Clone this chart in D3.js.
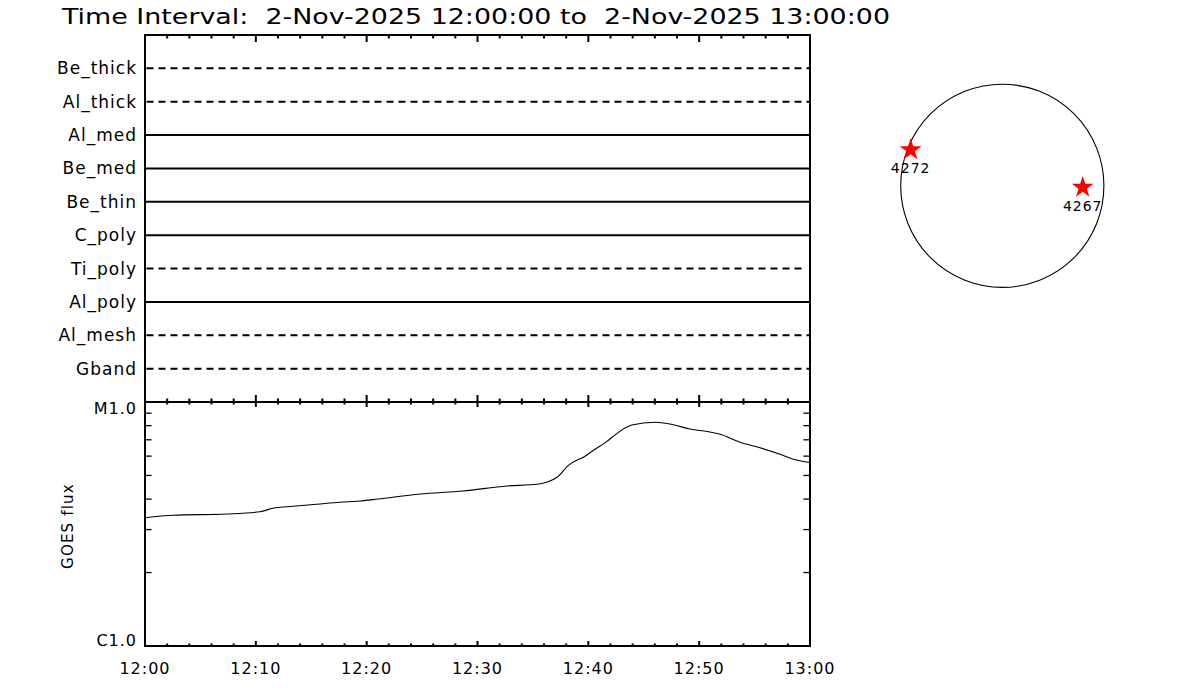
<!DOCTYPE html>
<html>
<head>
<meta charset="utf-8">
<script src="https://cdn.jsdelivr.net/npm/d3@7"></script>
<style>
  html, body { margin: 0; padding: 0; background: #fff; }
  svg { display: block; }
  text { font-family: "DejaVu Sans", sans-serif; fill: #000; }
</style>
</head>
<body>
<svg id="chart" width="1200" height="700"></svg>
<script>
// ---------- data ----------
const titleText = "Time Interval:  2-Nov-2025 12:00:00 to  2-Nov-2025 13:00:00";

// filter channels (top to bottom) and whether drawn dashed
const channels      = ["Be_thick", "Al_thick", "Al_med", "Be_med", "Be_thin", "C_poly", "Ti_poly", "Al_poly", "Al_mesh", "Gband"];
const channelDashed = [true, true, false, false, false, false, true, false, true, true];
const channelStart  = [0, 0, 0, 0, 0, 0, 0, 0, 0, 0];        // minutes after 12:00
const channelEnd    = [60, 60, 60, 60, 60, 60, 59.5, 60, 60, 60];

// time tick labels
const timeTickLabels = ["12:00", "12:10", "12:20", "12:30", "12:40", "12:50", "13:00"];
const fluxTickLabels = ["C1.0", "M1.0"];

// GOES flux (W/m^2) vs minutes after 12:00
const goesTime = [0, 2.55, 7.37, 10.38, 11.55, 13.35, 15.49, 17.59, 19.4, 21.02, 24.81, 28.69, 32.66, 35.37, 36.27,
                  37.18, 38.17, 39.88, 40.15, 41.69, 42.11, 43.91, 46.02, 47.37, 49.17, 50.98, 52.03, 53.69, 55.49,
                  57.29, 58.47, 59.82, 60];
const goesFlux = [3.356e-6, 3.433e-6, 3.475e-6, 3.551e-6, 3.667e-6, 3.737e-6, 3.808e-6, 3.881e-6, 3.929e-6, 4.004e-6,
                  4.198e-6, 4.318e-6, 4.527e-6, 4.600e-6, 4.700e-6, 4.913e-6, 5.483e-6, 6.065e-6, 6.198e-6, 6.900e-6,
                  7.150e-6, 8.049e-6, 8.256e-6, 8.124e-6, 7.750e-6, 7.534e-6, 7.345e-6, 6.837e-6, 6.497e-6,
                  6.105e-6, 5.823e-6, 5.659e-6, 5.630e-6];

// active regions on the solar disk (arcsec)
const arNumbers = ["4272", "4267"];
const arX = [-873, 766];
const arY = [342, -15];
const solarRadius = 968;

// ---------- layout ----------
const svg = d3.select("#chart");
const L = 145, R = 810, T = 35, MID = 402, B = 646;

const x = d3.scaleLinear().domain([0, 60]).range([L, R]);
const yTop = d3.scaleLinear().domain([0, channels.length + 1]).range([MID, T]);
const yBot = d3.scaleLog().domain([1e-6, 1e-5]).range([B, MID]);

const diskCx = 1002.3, diskCy = 185.8, diskR = 101.6;
const sx = d3.scaleLinear().domain([-solarRadius, solarRadius]).range([diskCx - diskR, diskCx + diskR]);
const sy = d3.scaleLinear().domain([-solarRadius, solarRadius]).range([diskCy + diskR, diskCy - diskR]);

// title
svg.append("text")
  .attr("x", 62).attr("y", 24)
  .attr("font-size", 22)
  .attr("textLength", 828).attr("lengthAdjust", "spacingAndGlyphs")
  .style("white-space", "pre")
  .attr("xml:space", "preserve")
  .text(titleText);

// ---------- top panel: channel lines ----------
const gTop = svg.append("g");
channels.forEach((c, i) => {
  const yv = channels.length - i;
  gTop.append("line")
    .attr("x1", x(channelStart[i]) + (channelDashed[i] ? 1.5 : 0))
    .attr("x2", x(channelEnd[i]))
    .attr("y1", yTop(yv)).attr("y2", yTop(yv))
    .attr("stroke", "#000").attr("stroke-width", 2)
    .attr("stroke-dasharray", channelDashed[i] ? "7,5" : null);
  gTop.append("text")
    .attr("x", L - 8).attr("y", yTop(yv) + 6)
    .attr("text-anchor", "end")
    .attr("font-size", 17)
    .attr("letter-spacing", 1)
    .text(c);
});

// ---------- bottom panel: GOES curve ----------
const line = d3.line()
  .curve(d3.curveMonotoneX)
  .x((d, i) => x(goesTime[i]))
  .y(d => yBot(d));
svg.append("path")
  .datum(goesFlux)
  .attr("d", line)
  .attr("fill", "none")
  .attr("stroke", "#000")
  .attr("stroke-width", 1.1);

// ---------- frames ----------
function frame(y0, y1) {
  svg.append("rect")
    .attr("x", L).attr("y", y0)
    .attr("width", R - L).attr("height", y1 - y0)
    .attr("fill", "none").attr("stroke", "#000").attr("stroke-width", 2);
}
frame(T, MID);
frame(MID, B);

// time ticks
const minorT = d3.range(0, 61, 2);
function xTicks(yLine, dir, minorLen, majorLen) {
  minorT.forEach(t => {
    const len = (t % 10 === 0) ? majorLen : minorLen;
    svg.append("line")
      .attr("x1", x(t)).attr("x2", x(t))
      .attr("y1", yLine).attr("y2", yLine + dir * len)
      .attr("stroke", "#000").attr("stroke-width", 2);
  });
}
xTicks(T, 1, 3.5, 7);
xTicks(MID, -1, 3.5, 7);
xTicks(MID, 1, 2.5, 5);
xTicks(B, -1, 2.5, 5);

// flux ticks (log minor)
const fluxMinor = d3.range(2, 10).map(k => k * 1e-6);
fluxMinor.forEach(f => {
  svg.append("line").attr("x1", L).attr("x2", L + 6.6)
    .attr("y1", yBot(f)).attr("y2", yBot(f))
    .attr("stroke", "#000").attr("stroke-width", 1.3);
  svg.append("line").attr("x1", R).attr("x2", R - 6.6)
    .attr("y1", yBot(f)).attr("y2", yBot(f))
    .attr("stroke", "#000").attr("stroke-width", 1.3);
});

// time labels
timeTickLabels.forEach((lab, i) => {
  svg.append("text")
    .attr("x", x(i * 10)).attr("y", 674)
    .attr("text-anchor", "middle")
    .attr("font-size", 16)
    .attr("letter-spacing", 1)
    .text(lab);
});

// flux labels
[1e-6, 1e-5].forEach((f, i) => {
  svg.append("text")
    .attr("x", L - 8).attr("y", yBot(f) + (i === 0 ? 0 : 12))
    .attr("text-anchor", "end")
    .attr("font-size", 16)
    .attr("letter-spacing", 1)
    .text(fluxTickLabels[i]);
});

// y-axis title
svg.append("text")
  .attr("transform", `translate(73,${(MID + B) / 2 + 2}) rotate(-90)`)
  .attr("text-anchor", "middle")
  .attr("font-size", 15)
  .attr("letter-spacing", 1.2)
  .text("GOES flux");

// ---------- solar disk ----------
svg.append("circle")
  .attr("cx", sx(0)).attr("cy", sy(0))
  .attr("r", sx(solarRadius) - sx(0))
  .attr("fill", "none").attr("stroke", "#000").attr("stroke-width", 1.1);

const star = d3.symbol().type(d3.symbolStar).size(148);
arNumbers.forEach((n, i) => {
  svg.append("path")
    .attr("d", star())
    .attr("transform", `translate(${sx(arX[i])},${sy(arY[i])})`)
    .attr("fill", "#ff0000");
  svg.append("text")
    .attr("x", sx(arX[i])).attr("y", sy(arY[i]) + 23.5)
    .attr("text-anchor", "middle")
    .attr("font-size", 14)
    .attr("letter-spacing", 1)
    .text(n);
});
</script>
</body>
</html>
